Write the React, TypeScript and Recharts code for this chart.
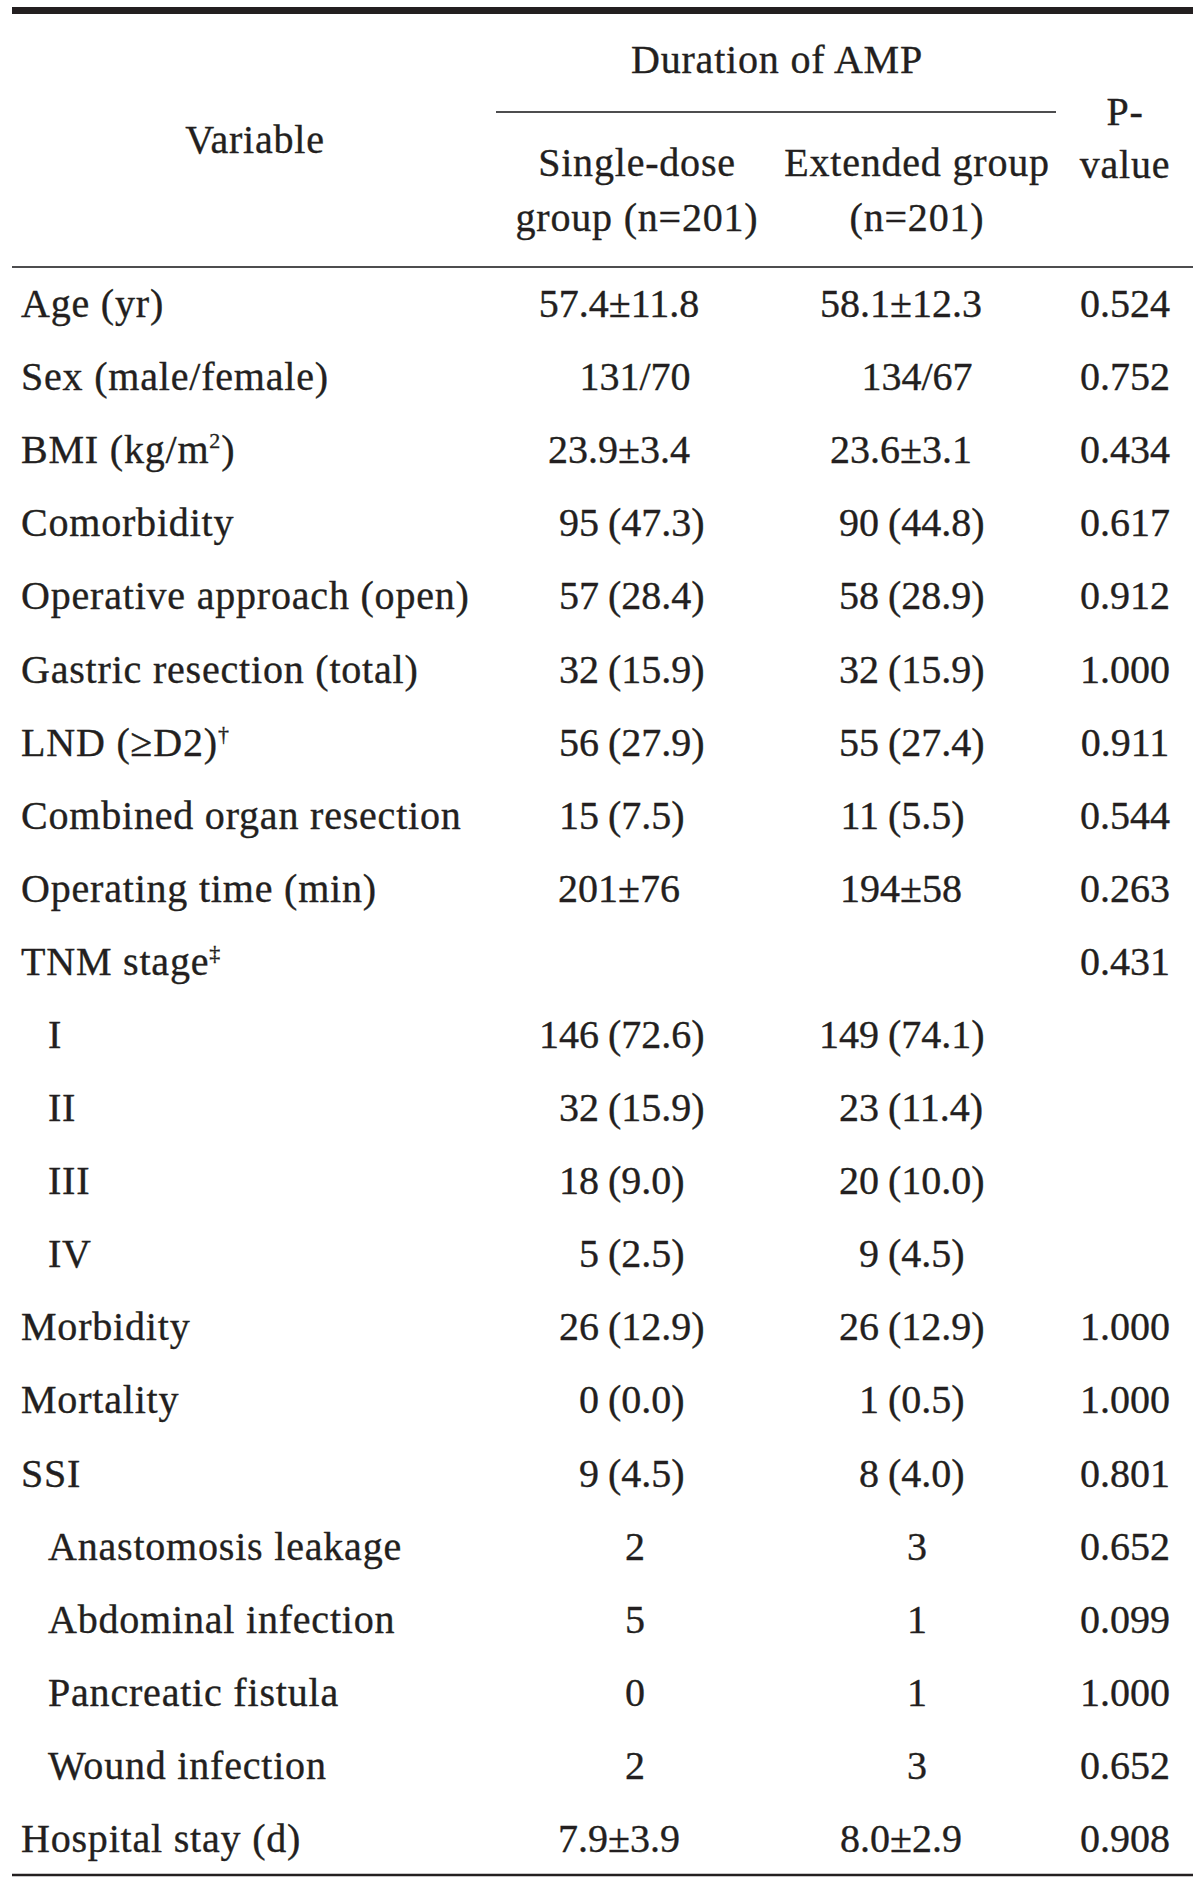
import React from "react";
import { ScatterChart, Scatter, XAxis, YAxis, ReferenceLine, Customized } from "recharts";

// ---- table data ----
const rowLabels = [
  "Age (yr)",
  "Sex (male/female)",
  "BMI (kg/m^2)",
  "Comorbidity",
  "Operative approach (open)",
  "Gastric resection (total)",
  "LND (≥D2)^†",
  "Combined organ resection",
  "Operating time (min)",
  "TNM stage^‡",
  "I",
  "II",
  "III",
  "IV",
  "Morbidity",
  "Mortality",
  "SSI",
  "Anastomosis leakage",
  "Abdominal infection",
  "Pancreatic fistula",
  "Wound infection",
  "Hospital stay (d)",
];

// 1 = sub-item (indented)
const rowLevel = [0, 0, 0, 0, 0, 0, 0, 0, 0, 0, 1, 1, 1, 1, 0, 0, 0, 1, 1, 1, 1, 0];

const singleDose = [
  "57.4±11.8", "131/70", "23.9±3.4", "95 (47.3)", "57 (28.4)", "32 (15.9)", "56 (27.9)",
  "15 (7.5)", "201±76", "", "146 (72.6)", "32 (15.9)", "18 (9.0)", "5 (2.5)",
  "26 (12.9)", "0 (0.0)", "9 (4.5)", "2", "5", "0", "2", "7.9±3.9",
];

const extendedGroup = [
  "58.1±12.3", "134/67", "23.6±3.1", "90 (44.8)", "58 (28.9)", "32 (15.9)", "55 (27.4)",
  "11 (5.5)", "194±58", "", "149 (74.1)", "23 (11.4)", "20 (10.0)", "9 (4.5)",
  "26 (12.9)", "1 (0.5)", "8 (4.0)", "3", "1", "1", "3", "8.0±2.9",
];

const pValues = [
  "0.524", "0.752", "0.434", "0.617", "0.912", "1.000", "0.911", "0.544", "0.263", "0.431",
  "", "", "", "", "1.000", "1.000", "0.801", "0.652", "0.099", "1.000", "0.652", "0.908",
];

// ---- layout / style ----
const W = 1200;
const H = 1884;
const FONT = "'Liberation Serif', 'Times New Roman', serif";
const INK = "#231f20";
const RULE = "#4d4d4f";
const FS = 40;
const BASE_DY = 13.5;
const LABEL_LS = 0.8;
const NUM_LS = 0;

const COL_LABEL = 21;
const INDENT = 27;
const COL_SINGLE = 635;
const COL_EXT = 917;
const COL_P = 1125;

// offsets from the column centre for split "n (%)" cells and "±" cells
const singleCfg = { intEnd: -36, pm: -16 };
const extCfg = { intEnd: -38, pm: -16 };
const PAREN_GAP = 9;

const labelData = rowLabels.map((text, i) => ({ row: i, x: COL_LABEL, text, level: rowLevel[i] }));
const singleData = singleDose.map((text, i) => ({ row: i, x: COL_SINGLE, text }));
const extData = extendedGroup.map((text, i) => ({ row: i, x: COL_EXT, text }));
const pData = pValues.map((text, i) => ({ row: i, x: COL_P, text }));

const textProps = {
  fontFamily: FONT,
  fontSize: FS,
  fill: INK,
  stroke: INK,
  strokeWidth: 0.35,
};

function richText(s: string) {
  const parts = s.split(/\^(.)/);
  const out: any[] = [];
  let raised = false;
  parts.forEach((p, k) => {
    if (!p) return;
    if (k % 2 === 1) {
      out.push(
        <tspan key={k} dy={-15} fontSize={22}>
          {p}
        </tspan>
      );
      raised = true;
    } else {
      out.push(
        <tspan key={k} dy={raised ? 15 : 0} fontSize={FS}>
          {p}
        </tspan>
      );
      raised = false;
    }
  });
  return out;
}

const LabelShape = (props: any) => {
  const { cx, cy, payload } = props;
  if (cx == null || cy == null) return <g />;
  return (
    <text
      x={cx + (payload.level ? INDENT : 0)}
      y={cy + BASE_DY}
      textAnchor="start"
      letterSpacing={LABEL_LS}
      {...textProps}
    >
      {richText(payload.text)}
    </text>
  );
};

const valueShape = (cfg: { intEnd: number; pm: number }) => (props: any) => {
  const { cx, cy, payload } = props;
  const t: string = payload.text;
  if (!t || cx == null || cy == null) return <g />;
  const y = cy + BASE_DY;
  const m = t.match(/^(\d+) (\(.+\))$/);
  if (m) {
    const xa = cx + cfg.intEnd;
    return (
      <g>
        <text x={xa} y={y} textAnchor="end" letterSpacing={NUM_LS} {...textProps}>
          {m[1]}
        </text>
        <text x={xa + PAREN_GAP} y={y} textAnchor="start" letterSpacing={NUM_LS} {...textProps}>
          {m[2]}
        </text>
      </g>
    );
  }
  const dx = t.includes("±") ? cfg.pm : 0;
  return (
    <text x={cx + dx} y={y} textAnchor="middle" letterSpacing={NUM_LS} {...textProps}>
      {t}
    </text>
  );
};

const pShape = valueShape({ intEnd: 0, pm: 0 });

const Header = () => (
  <g>
    <line x1={12} x2={1193} y1={10.5} y2={10.5} stroke={INK} strokeWidth={7} />
    <line x1={496} x2={1056} y1={112} y2={112} stroke={RULE} strokeWidth={2} />
    <text x={255} y={153} textAnchor="middle" letterSpacing={LABEL_LS} {...textProps}>
      Variable
    </text>
    <text x={777} y={73} textAnchor="middle" letterSpacing={LABEL_LS} {...textProps}>
      Duration of AMP
    </text>
    <text x={637} y={176} textAnchor="middle" letterSpacing={LABEL_LS} {...textProps}>
      Single-dose
    </text>
    <text x={637} y={231} textAnchor="middle" letterSpacing={LABEL_LS} {...textProps}>
      group (n=201)
    </text>
    <text x={917} y={176} textAnchor="middle" letterSpacing={LABEL_LS} {...textProps}>
      Extended group
    </text>
    <text x={917} y={231} textAnchor="middle" letterSpacing={LABEL_LS} {...textProps}>
      (n=201)
    </text>
    <text x={1125} y={125} textAnchor="middle" letterSpacing={LABEL_LS} {...textProps}>
      P-
    </text>
    <text x={1125} y={178} textAnchor="middle" letterSpacing={LABEL_LS} {...textProps}>
      value
    </text>
  </g>
);

export default function App() {
  return (
    <div style={{ position: "absolute", left: 0, top: 0, width: W, height: H, background: "#fff" }}>
      <ScatterChart width={W} height={H} margin={{ top: 267, right: 0, bottom: 9, left: 0 }}>
        <XAxis type="number" dataKey="x" domain={[0, W]} hide />
        <YAxis type="number" dataKey="row" domain={[-0.5, rowLabels.length - 0.5]} reversed hide />
        <ReferenceLine
          ifOverflow="visible"
          segment={[{ x: 12, y: -0.5 }, { x: 1193, y: -0.5 }]}
          stroke={RULE}
          strokeWidth={2}
        />
        <ReferenceLine
          ifOverflow="visible"
          segment={[{ x: 12, y: rowLabels.length - 0.5 }, { x: 1193, y: rowLabels.length - 0.5 }]}
          stroke={INK}
          strokeWidth={2.6}
        />
        <Scatter data={labelData} shape={LabelShape} isAnimationActive={false} />
        <Scatter data={singleData} shape={valueShape(singleCfg)} isAnimationActive={false} />
        <Scatter data={extData} shape={valueShape(extCfg)} isAnimationActive={false} />
        <Scatter data={pData} shape={pShape} isAnimationActive={false} />
        <Customized component={Header} />
      </ScatterChart>
    </div>
  );
}
